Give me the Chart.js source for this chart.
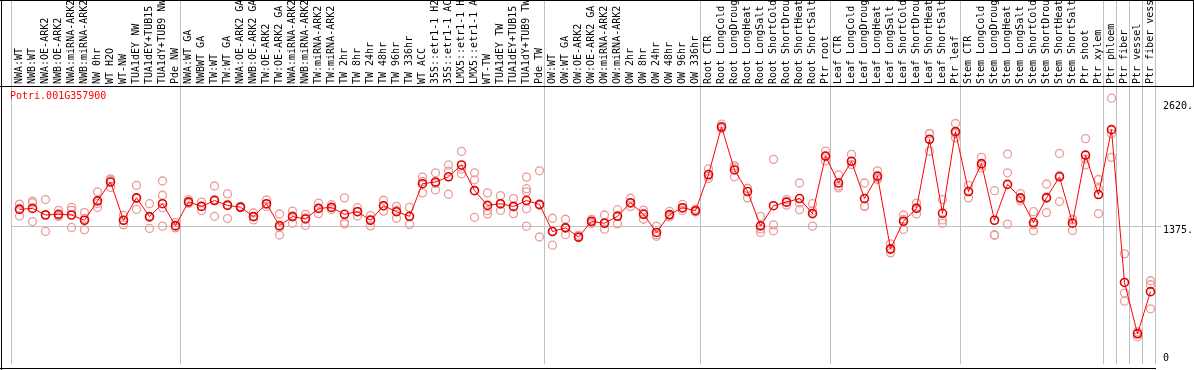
<!DOCTYPE html>
<html>
<head>
<meta charset="utf-8">
<script src="https://cdn.jsdelivr.net/npm/chart.js@4.4.0/dist/chart.umd.min.js"></script>
<style>
  html, body { margin: 0; padding: 0; background: #fff; }
  canvas { display: block; }
</style>
</head>
<body>
<canvas id="expChart" width="1194" height="370"></canvas>
<script>
// Muestras (eje X)
const samples = [
  'NWA:WT', 'NWB:WT', 'NWA:OE-ARK2', 'NWB:OE-ARK2', 'NWA:miRNA-ARK2', 'NWB:miRNA-ARK2', 'NW 0hr', 'WT H2O', 'WT-NW',
  'TUA1dEY NW', 'TUA1dEY+TUB15 NW', 'TUA1dY+TUB9 NW', 'Pde NW',
  'NWA:WT GA', 'NWBWT GA', 'TW:WT', 'TW:WT GA', 'NWA:OE-ARK2 GA', 'NWB:OE-ARK2 GA', 'TW:OE-ARK2', 'TW:OE-ARK2 GA',
  'NWA:miRNA-ARK2', 'NWB:miRNA-ARK2', 'TW:miRNA-ARK2', 'TW:miRNA-ARK2', 'TW 2hr', 'TW 8hr', 'TW 24hr', 'TW 48hr',
  'TW 96hr', 'TW 336hr', 'WT ACC', '35S::etr1-1 H2O', '35S::etr1-1 ACC', 'LMX5::etr1-1 H2O', 'LMX5::etr1-1 ACC',
  'WT-TW', 'TUA1dEY TW', 'TUA1dEY+TUB15 TW', 'TUA1dY+TUB9 TW', 'Pde TW',
  'OW:WT', 'OW:WT GA', 'OW:OE-ARK2', 'OW:OE-ARK2 GA', 'OW:miRNA-ARK2', 'OW:miRNA-ARK2', 'OW 2hr', 'OW 8hr',
  'OW 24hr', 'OW 48hr', 'OW 96hr', 'OW 336hr',
  'Root CTR', 'Root LongCold', 'Root LongDrought', 'Root LongHeat', 'Root LongSalt', 'Root ShortCold',
  'Root ShortDrought', 'Root ShortHeat', 'Root ShortSalt', 'Ptr root',
  'Leaf CTR', 'Leaf LongCold', 'Leaf LongDrought', 'Leaf LongHeat', 'Leaf LongSalt', 'Leaf ShortCold',
  'Leaf ShortDrought', 'Leaf ShortHeat', 'Leaf ShortSalt', 'Ptr leaf',
  'Stem CTR', 'Stem LongCold', 'Stem LongDrought', 'Stem LongHeat', 'Stem LongSalt', 'Stem ShortCold',
  'Stem ShortDrought', 'Stem ShortHeat', 'Stem ShortSalt', 'Ptr shoot', 'Ptr xylem',
  'Ptr phloem', 'Ptr fiber', 'Ptr vessel', 'Ptr fiber vessel'
];

// Inicio de cada grupo (lineas verticales)
const groupStarts = [0, 13, 41, 53, 63, 73, 84, 85, 86, 87, 88];

// Media de expresion
const meanValues = [
  1540, 1550, 1484, 1491, 1484, 1431, 1626, 1815, 1431, 1656, 1468, 1597, 1377,
  1616, 1570, 1629, 1580, 1563, 1468, 1597, 1377, 1468, 1444, 1550, 1560, 1491, 1517, 1431, 1577,
  1517, 1471, 1798, 1815, 1867, 1986, 1728, 1580, 1597, 1570, 1629, 1590,
  1318, 1355, 1263, 1421, 1401, 1471, 1607, 1491, 1309, 1488, 1557, 1527,
  1890, 2369, 1936, 1719, 1375, 1577, 1613, 1649, 1498, 2075,
  1805, 2023, 1649, 1874, 1144, 1421, 1550, 2243, 1501, 2320,
  1719, 1999, 1431, 1791, 1656, 1408, 1656, 1867, 1402, 2085, 1689,
  2340, 807, 292, 715
];

// Replicas
const rep1 = [
  1593, 1622, 1639, 1530, 1560, 1508, 1716, 1847, 1481, 1781, 1597, 1825, 1408,
  1639, 1613, 1775, 1696, 1570, 1504, 1636, 1494, 1523, 1491, 1603, 1587, 1656, 1557, 1478, 1632,
  1570, 1560, 1864, 1907, 1986, 2122, 1907, 1706, 1679, 1649, 1864, 1927,
  1451, 1441, 1280, 1440, 1484, 1537, 1652, 1533, 1372, 1520, 1590, 1543,
  1946, 2395, 1979, 1751, 1471, 2042, 1639, 1805, 1597, 2125,
  1887, 2092, 1805, 1927, 1194, 1484, 1603, 2300, 1639, 2402,
  1781, 2062, 1728, 2095, 1699, 1517, 1795, 2102, 1441, 2250, 1840,
  2656, 1094, 312, 824
];
const rep2 = [
  1474, 1418, 1319, 1468, 1359, 1335, 1560, 1761, 1385, 1540, 1349, 1682, 1370,
  1610, 1527, 1471, 1448, 1560, 1434, 1590, 1283, 1402, 1379, 1498, 1560, 1408, 1474, 1375, 1523,
  1451, 1389, 1706, 1735, 1924, 1897, 1837, 1527, 1530, 1498, 1748, 1580,
  1181, 1286, 1260, 1410, 1342, 1395, 1600, 1441, 1286, 1480, 1550, 1520,
  1874, 2360, 1867, 1656, 1309, 1385, 1583, 1537, 1372, 2026,
  1755, 1989, 1570, 1840, 1104, 1339, 1494, 2125, 1434, 2260,
  1656, 1956, 1286, 1907, 1626, 1325, 1508, 1619, 1329, 2045, 1748,
  2300, 701, 262, 784
];
const rep3 = [
  1550, 1605, 1490, 1480, 1530, 1450, 1600, 1835, 1430, 1650, 1460, 1557, 1355,
  1600, 1570, 1640, 1590, 1555, 1470, 1570, 1360, 1475, 1455, 1550, 1540, 1395, 1520, 1440, 1575,
  1530, 1465, 1820, 1800, 1692, 1945, 1461, 1494, 1590, 1565, 1716, 1263,
  1322, 1360, 1255, 1400, 1410, 1480, 1570, 1500, 1270, 1465, 1530, 1515,
  1850, 2350, 1960, 1750, 1345, 1325, 1615, 1605, 1525, 2075,
  1775, 1990, 1575, 1855, 1135, 1440, 1555, 2300, 1402, 2300,
  1720, 1980, 1280, 1392, 1645, 1385, 1665, 1880, 1435, 1986, 1498,
  2062, 619, 300, 543
];
const rep4 = samples.map(() => null);
rep4[11] = 1372;
rep4[39] = 1547;
const rep5 = samples.map(() => null);
rep5[39] = 1372;

// Etiquetas del eje Y (derecha)
const tickValues = [2620, 1375, 0];
const tickLabels = ['2620.', '1375.', '0'];

const titleText = 'Potri.001G357900';
const monoFont = '10px "DejaVu Sans Mono", "Liberation Mono", monospace';

// Plugin: marco, rejilla, etiquetas giradas y titulo
const framePlugin = {
    id: 'frame',
    beforeDatasetsDraw(chart) {
        const ctx = chart.ctx;
        const x = chart.scales.x;
        const y = chart.scales.y;
        const area = chart.chartArea;
        ctx.save();
        // lineas grises de grupo (los puntos van 2px a la derecha del centro)
        ctx.strokeStyle = '#c0c0c0';
        ctx.lineWidth = 1;
        groupStarts.forEach(g => {
            const px = Math.round(x.getPixelForValue(g - 0.5) - 2) + 0.5;
            ctx.beginPath();
            ctx.moveTo(px, 0);
            ctx.lineTo(px, area.bottom);
            ctx.stroke();
        });
        // linea horizontal en 1375
        const py = Math.round(y.getPixelForValue(1375)) + 0.5;
        ctx.beginPath();
        ctx.moveTo(area.left - 2, py);
        ctx.lineTo(area.right + 4, py);
        ctx.stroke();
        // marco negro
        ctx.strokeStyle = '#000';
        ctx.beginPath();
        ctx.moveTo(0, 0.5); ctx.lineTo(1194, 0.5);
        ctx.moveTo(0, 86.5); ctx.lineTo(1194, 86.5);
        ctx.moveTo(1.5, 0); ctx.lineTo(1.5, 370);
        ctx.moveTo(1193.5, 0); ctx.lineTo(1193.5, 86);
        ctx.moveTo(0, 368.5); ctx.lineTo(area.right - 1, 368.5);
        ctx.stroke();
        // etiquetas de muestras
        ctx.fillStyle = '#000';
        ctx.font = monoFont;
        ctx.textAlign = 'left';
        ctx.textBaseline = 'middle';
        samples.forEach((s, i) => {
            ctx.save();
            ctx.translate(x.getPixelForValue(i), 84);
            ctx.rotate(-Math.PI / 2);
            ctx.fillText(s, 0, 0);
            ctx.restore();
        });
        // etiquetas eje Y
        tickValues.forEach((v, i) => {
            const ty = y.getPixelForValue(v);
            ctx.textBaseline = v === 0 ? 'bottom' : 'top';
            ctx.fillText(tickLabels[i], area.right + 6, v === 0 ? ty + 1 : ty);
        });
        // titulo
        ctx.fillStyle = '#ff0000';
        ctx.textBaseline = 'top';
        ctx.fillText(titleText, 10, 91);
        ctx.restore();
    }
};

const repStyle = {
    showLine: false,
    pointStyle: 'circle',
    pointRadius: 4,
    pointBorderWidth: 1.3,
    pointBorderColor: '#eb9b9b',
    pointBackgroundColor: 'rgba(0,0,0,0)'
};

const ctx = document.getElementById('expChart').getContext('2d');
new Chart(ctx, {
    type: 'line',
    data: {
        labels: samples,
        datasets: [
            {
                data: meanValues,
                borderColor: '#ff0000',
                borderWidth: 1,
                pointRadius: 4,
                pointBorderWidth: 1.6,
                pointBorderColor: '#e00000',
                pointBackgroundColor: 'rgba(0,0,0,0)',
                tension: 0
            },
            Object.assign({ data: rep1 }, repStyle),
            Object.assign({ data: rep2 }, repStyle),
            Object.assign({ data: rep3 }, repStyle),
            Object.assign({ data: rep4 }, repStyle),
            Object.assign({ data: rep5 }, repStyle)
        ]
    },
    options: {
        responsive: false,
        animation: false,
        layout: { padding: { left: 13, top: 87, right: 37, bottom: 2 } },
        plugins: {
            legend: { display: false },
            tooltip: { enabled: false }
        },
        scales: {
            x: { display: false, offset: true },
            y: { display: false, min: -15, max: 2768 }
        }
    },
    plugins: [framePlugin]
});
</script>
</body>
</html>
